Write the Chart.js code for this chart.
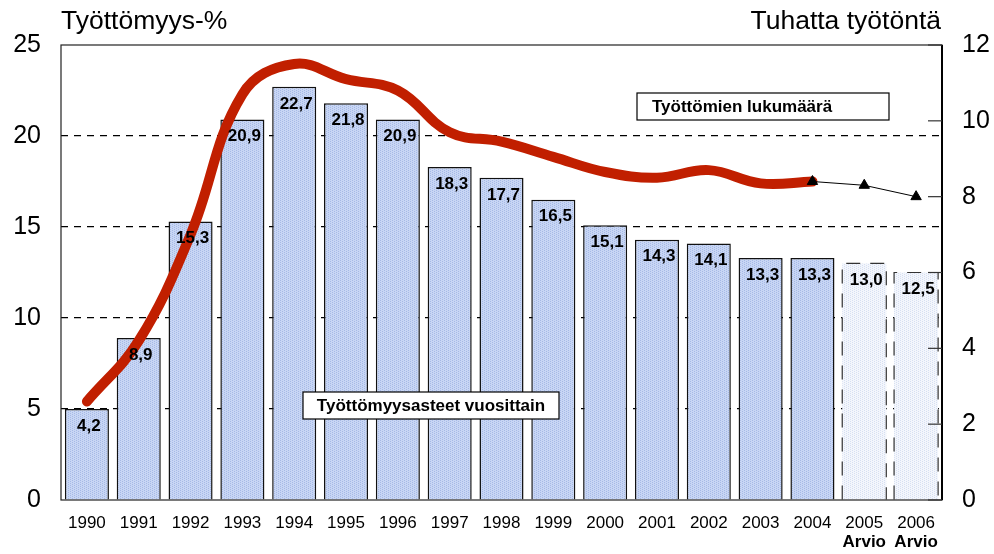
<!DOCTYPE html>
<html>
<head>
<meta charset="utf-8">
<script src="https://cdn.jsdelivr.net/npm/chart.js@4/dist/chart.umd.min.js"></script>
<style>
  html, body { margin: 0; padding: 0; background: #fff; }
  #wrap { width: 994px; height: 554px; position: relative; }
</style>
</head>
<body>
<div id="wrap"><canvas id="chart" width="994" height="554"></canvas></div>
<script>
// ---- data ----
const years = ['1990','1991','1992','1993','1994','1995','1996','1997','1998','1999','2000','2001','2002','2003','2004','2005','2006'];
const rateBars = [5.0, 8.9, 15.3, 20.9, 22.7, 21.8, 20.9, 18.3, 17.7, 16.5, 15.1, 14.3, 14.1, 13.3, 13.3, 13.0, 12.5];
const rateText = ['4,2','8,9','15,3','20,9','22,7','21,8','20,9','18,3','17,7','16,5','15,1','14,3','14,1','13,3','13,3','13,0','12,5'];
const isEstimate = [false,false,false,false,false,false,false,false,false,false,false,false,false,false,false,true,true];
const unemployed = [2.6, 4.2, 7.0, 10.7, 11.5, 11.1, 10.8, 9.7, 9.45, 9.05, 8.65, 8.5, 8.7, 8.35, 8.4, null, null];
const forecast = [null,null,null,null,null,null,null,null,null,null,null,null,null,null,8.4, 8.3, 8.0];
const estimateNote = 'Arvio';
const leftTitle = 'Työttömyys-%';
const rightTitle = 'Tuhatta työtöntä';
const lineNote = 'Työttömien lukumäärä';
const barNote = 'Työttömyysasteet vuosittain';

const FONT = "Arial, 'Liberation Sans', sans-serif";

function $(id) { return document.getElementById(id); }

function makePattern(ctx, base, dot) {
  const c = document.createElement('canvas');
  c.width = 4; c.height = 4;
  const g = c.getContext('2d');
  g.fillStyle = base; g.fillRect(0, 0, 4, 4);
  g.fillStyle = dot;
  g.fillRect(0, 0, 1, 1); g.fillRect(2, 1, 1, 1);
  g.fillRect(0, 2, 1, 1); g.fillRect(2, 3, 1, 1);
  return ctx.createPattern(c, 'repeat');
}

const ctx = $('chart').getContext('2d');
const fillReal = makePattern(ctx, '#c8d6f4', '#a6b9e6');
const fillEst = makePattern(ctx, '#f3f6fc', '#d6dff2');

// texts, borders and the inward ticks of the right axis
const extras = {
  id: 'extras',
  afterDatasetsDraw(chart) {
    const c = chart.ctx, a = chart.chartArea;
    const bars = chart.getDatasetMeta(0).data;
    c.save();
    // dashed outline of estimate bars
    bars.forEach((b, i) => {
      if (!isEstimate[i]) return;
      const p = b.getProps(['x','y','base','width'], true);
      c.strokeStyle = '#333'; c.lineWidth = 1.2; c.setLineDash([14, 10]);
      c.beginPath();
      c.moveTo(p.x - p.width/2, p.base); c.lineTo(p.x - p.width/2, p.y);
      c.lineTo(p.x + p.width/2, p.y); c.lineTo(p.x + p.width/2, p.base);
      c.stroke();
    });
    c.setLineDash([]);
    // value labels
    c.fillStyle = '#000'; c.font = 'bold 17px ' + FONT;
    c.textAlign = 'center'; c.textBaseline = 'middle';
    bars.forEach((b, i) => {
      const p = b.getProps(['x','y'], true);
      c.fillText(rateText[i], p.x + 2, p.y + 17);
    });
    // plot frame
    c.strokeStyle = '#222'; c.lineWidth = 1.2;
    c.strokeRect(a.left, a.top, a.right - a.left, a.bottom - a.top);
    c.lineWidth = 2; c.strokeStyle = '#000';
    c.beginPath(); c.moveTo(a.right, a.top); c.lineTo(a.right, a.bottom); c.stroke();
    // inward ticks on right axis
    const y1 = chart.scales.y1;
    c.lineWidth = 1.2; c.strokeStyle = '#333';
    y1.ticks.forEach(t => {
      const yy = y1.getPixelForValue(t.value);
      c.beginPath(); c.moveTo(a.right - 14, yy); c.lineTo(a.right, yy); c.stroke();
    });
    // note boxes
    function box(text, x0, y0, w, h, align) {
      c.fillStyle = '#fff'; c.fillRect(x0, y0, w, h);
      c.strokeStyle = '#000'; c.lineWidth = 1.2; c.strokeRect(x0, y0, w, h);
      c.fillStyle = '#000'; c.font = 'bold 17px ' + FONT;
      c.textBaseline = 'middle';
      if (align === 'left') { c.textAlign = 'left'; c.fillText(text, x0 + 15, y0 + h/2 + 1); }
      else { c.textAlign = 'center'; c.fillText(text, x0 + w/2, y0 + h/2 + 1); }
    }
    box(lineNote, 637, 93, 252, 27, 'left');
    box(barNote, 303, 392, 256, 27, 'center');
    // axis titles
    c.fillStyle = '#000'; c.font = '26.5px ' + FONT; c.textBaseline = 'middle';
    c.textAlign = 'left'; c.fillText(leftTitle, 61, 22);
    c.textAlign = 'right'; c.fillText(rightTitle, 941, 22);
    // estimate notes under years
    const xs = chart.scales.x;
    c.font = 'bold 17px ' + FONT; c.textAlign = 'center';
    isEstimate.forEach((e, i) => {
      if (e) c.fillText(estimateNote, xs.getPixelForValue(i), 542);
    });
    c.restore();
  }
};

new Chart(ctx, {
  data: {
    labels: years,
    datasets: [
      {
        type: 'bar', label: 'Työttömyysaste', data: rateBars, yAxisID: 'y', order: 3,
        backgroundColor: rateBars.map((v, i) => isEstimate[i] ? fillEst : fillReal),
        borderColor: '#111',
        borderWidth: rateBars.map((v, i) => isEstimate[i] ? 0 : 1.5),
        barPercentage: 0.85, categoryPercentage: 1.0
      },
      {
        type: 'line', label: 'Työttömät', data: unemployed, yAxisID: 'y1', order: 2,
        borderColor: '#c11f00', borderWidth: 10, tension: 0.4, pointRadius: 0,
        borderCapStyle: 'round', borderJoinStyle: 'round', fill: false
      },
      {
        type: 'line', label: 'Arvio', data: forecast, yAxisID: 'y1', order: 1,
        borderColor: '#000', borderWidth: 1, tension: 0, fill: false,
        pointStyle: 'triangle', pointRadius: 6, pointBackgroundColor: '#000', pointBorderColor: '#000'
      }
    ]
  },
  options: {
    responsive: false, animation: false,
    layout: { padding: { top: 45, left: 0, right: 0, bottom: 0 } },
    plugins: { legend: { display: false }, tooltip: { enabled: false } },
    scales: {
      x: {
        offset: true,
        grid: { display: false, drawTicks: false },
        border: { display: false },
        ticks: { color: '#000', font: { family: FONT, size: 17 }, padding: 13, maxRotation: 0, autoSkip: false },
        afterFit(s) { s.height = 54; }
      },
      y: {
        position: 'left', min: 0, max: 25,
        ticks: { stepSize: 5, color: '#000', font: { family: FONT, size: 25 }, padding: 20 },
        grid: {
          drawTicks: false,
          color: c => (c.tick.value === 0 || c.tick.value === 25) ? 'rgba(0,0,0,0)' : '#000',
          lineWidth: 1.2
        },
        border: { display: false, dash: [7, 6] },
        afterFit(s) { s.width = 61; }
      },
      y1: {
        position: 'right', min: 0, max: 12,
        ticks: { stepSize: 2, color: '#000', font: { family: FONT, size: 25 }, padding: 20 },
        grid: { display: false, drawTicks: false },
        border: { display: false },
        afterFit(s) { s.width = 52; }
      }
    }
  },
  plugins: [extras]
});
</script>
</body>
</html>
